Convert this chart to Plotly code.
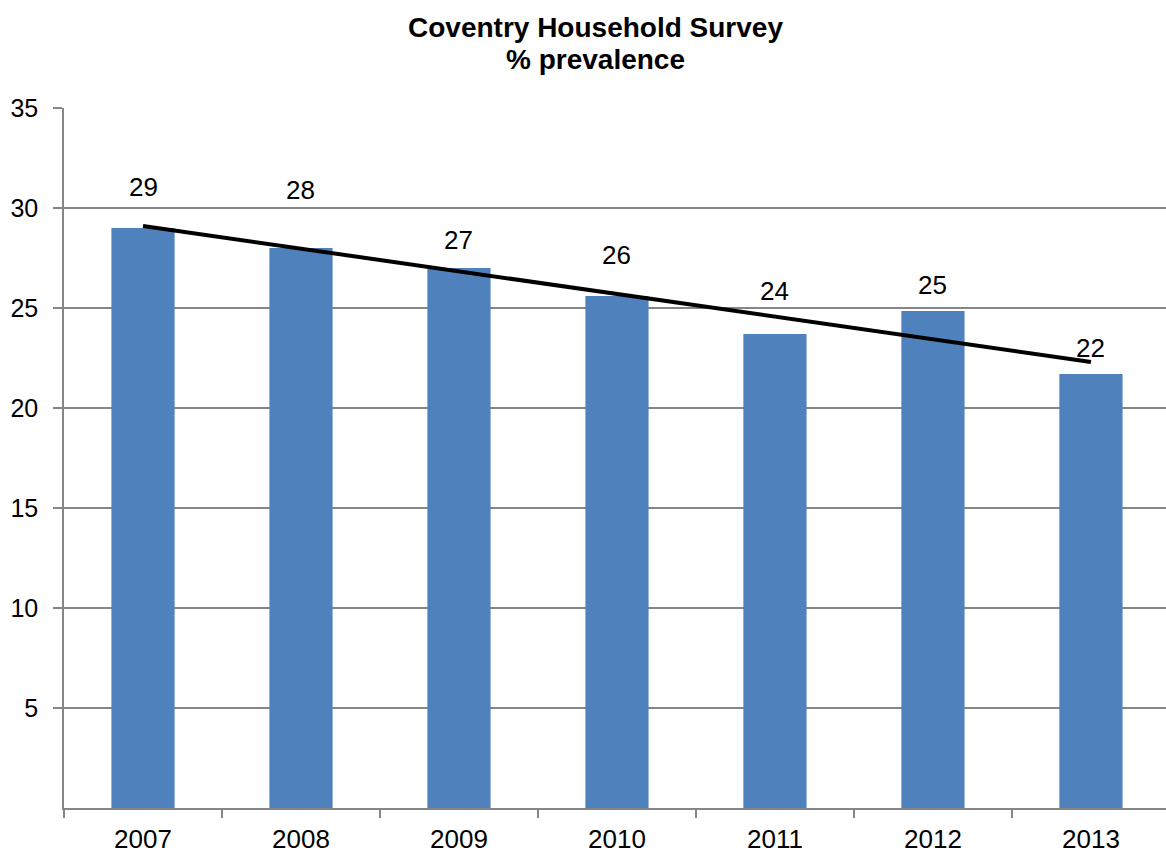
import plotly.graph_objects as go

years = ["2007", "2008", "2009", "2010", "2011", "2012", "2013"]
prevalence = [29.0, 28.0, 27.0, 25.6, 23.7, 24.85, 21.7]
label_text = ["29", "28", "27", "26", "24", "25", "22"]
label_y = [31.05, 30.9, 28.4, 27.65, 25.85, 26.15, 23.0]
trend_years = ["2007", "2013"]
trend_values = [29.1, 22.3]
y_ticks = [5, 10, 15, 20, 25, 30, 35]

FONT = "Liberation Sans, Arial, sans-serif"

fig = go.Figure()
fig.add_trace(go.Bar(x=years, y=prevalence, width=0.4,
                     marker=dict(color="#4F81BD", line=dict(width=0)),
                     hoverinfo="x+y"))
fig.add_trace(go.Scatter(x=trend_years, y=trend_values, mode="lines",
                         line=dict(color="black", width=4)))

for i, (t, ly) in enumerate(zip(label_text, label_y)):
    fig.add_annotation(x=i, y=ly, text=t, showarrow=False,
                       font=dict(family=FONT, size=26, color="black"),
                       xanchor="center", yanchor="middle")

fig.add_annotation(xref="paper", yref="paper", x=0.482, y=1.0,
                   yshift=81, text="<b>Coventry Household Survey</b>",
                   showarrow=False, font=dict(family=FONT, size=28, color="black"),
                   xanchor="center", yanchor="middle")
fig.add_annotation(xref="paper", yref="paper", x=0.482, y=1.0,
                   yshift=49, text="<b>% prevalence</b>",
                   showarrow=False, font=dict(family=FONT, size=28, color="black"),
                   xanchor="center", yanchor="middle")

fig.update_layout(
    width=1166, height=854,
    margin=dict(l=64, r=0, t=108, b=46),
    paper_bgcolor="white", plot_bgcolor="white",
    showlegend=False,
    font=dict(family=FONT, size=24, color="black"),
    xaxis=dict(type="category", range=[-0.5, 6.475],
               showline=True, linecolor="#868686", linewidth=1.5,
               ticks="outside", ticklen=8, tickcolor="#868686", tickwidth=1.5,
               tickson="boundaries", showgrid=False, ticklabelstandoff=7,
               tickfont=dict(family=FONT, size=26, color="black")),
    yaxis=dict(range=[0, 35], tickvals=y_ticks,
               showline=True, linecolor="#868686", linewidth=1.5,
               ticks="outside", ticklen=9, tickcolor="#868686", tickwidth=1.5,
               showgrid=True, gridcolor="#868686", gridwidth=1.5,
               zeroline=False, ticklabelstandoff=10,
               tickfont=dict(family=FONT, size=25, color="black")),
)

fig.write_html("out.html")
